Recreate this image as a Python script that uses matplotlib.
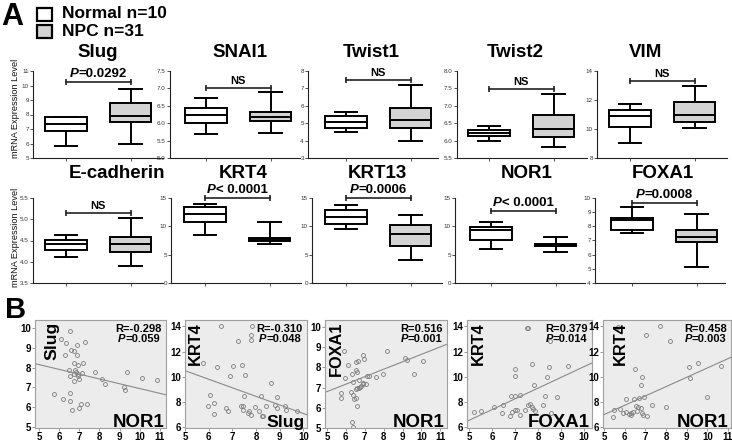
import matplotlib
matplotlib.use('Agg')
import matplotlib.pyplot as plt
from matplotlib import font_manager
from matplotlib.patches import Rectangle
from matplotlib.ticker import MultipleLocator, FormatStrFormatter
from matplotlib.offsetbox import TextArea, HPacker, VPacker, AnnotationBbox
from matplotlib.transforms import offset_copy

plt.rcParams['font.family'] = ['Liberation Sans', 'DejaVu Sans']

# ---------------- panel A: box plots, [min, q1, median, q3, max]
genes_top = ['Slug', 'SNAI1', 'Twist1', 'Twist2', 'VIM']
genes_bot = ['E-cadherin', 'KRT4', 'KRT13', 'NOR1', 'FOXA1']

normal_top = [[5.80, 6.83, 7.36, 7.80, 7.85],
              [5.70, 6.00, 6.24, 6.45, 6.72],
              [4.49, 4.74, 5.07, 5.39, 5.63],
              [6.00, 6.12, 6.23, 6.31, 6.41],
              [9.05, 10.11, 10.87, 11.34, 11.69]]
npc_top = [[5.99, 7.45, 7.93, 8.78, 9.79],
           [5.71, 6.07, 6.18, 6.31, 6.89],
           [3.98, 4.70, 5.16, 5.90, 7.21],
           [5.81, 6.10, 6.34, 6.75, 7.33],
           [10.06, 10.48, 10.99, 11.85, 12.98]]
normal_bot = [[4.11, 4.28, 4.41, 4.51, 4.63],
              [8.54, 10.73, 12.11, 13.44, 14.02],
              [9.58, 10.33, 11.60, 12.92, 13.85],
              [5.94, 7.56, 9.29, 9.81, 10.85],
              [7.56, 7.72, 8.44, 8.60, 9.33]]
npc_bot = [[3.89, 4.24, 4.41, 4.58, 5.02],
           [6.92, 7.33, 7.67, 8.02, 10.79],
           [3.98, 6.52, 8.71, 10.27, 12.06],
           [5.54, 6.45, 6.65, 6.85, 8.08],
           [5.12, 6.88, 7.28, 7.74, 8.86]]

ylim_top = [(5, 11), (5, 7.5), (3, 8), (5.5, 8), (8, 14)]
ystep_top = [1, 0.5, 1, 0.5, 2]
ylim_bot = [(3.5, 5.5), (0, 15), (0, 15), (0, 15), (4, 10)]
ystep_bot = [0.5, 5, 5, 5, 1]

bracket_top = [10.24, 7.01, 7.48, 7.48, 13.31]
bracket_bot = [5.15, 15.0, 15.0, 12.7, 9.65]
sig_top = ['=0.0292', 'NS', 'NS', 'NS', 'NS']
sig_bot = ['NS', '< 0.0001', '=0.0006', '< 0.0001', '=0.0008']

# ---------------- panel B: scatter plots
sc_xgene = ['NOR1', 'Slug', 'NOR1', 'FOXA1', 'NOR1']
sc_ygene = ['Slug', 'KRT4', 'FOXA1', 'KRT4', 'KRT4']
sc_r = ['R=-0.298', 'R=-0.310', 'R=0.516', 'R=0.379', 'R=0.458']
sc_p = ['=0.059', '=0.048', '=0.001', '=0.014', '=0.003']
# fitted line: slope, intercept
sc_fit = [(-0.242, 9.36), (-0.679, 13.885), (0.37, 4.95), (0.848, 2.325), (0.738, 3.32)]

nor1_slug_x = [6.53, 6.11, 6.33, 7.27, 6.86, 6.61, 6.72, 6.86, 6.31, 7.19, 6.72, 6.92, 6.48,
               6.78, 6.83, 6.72, 6.91, 7.12, 6.53, 6.94, 6.96, 6.72, 7.80, 8.10, 8.28, 9.38,
               10.09, 10.84, 9.21, 9.25, 5.73, 6.53, 6.19, 6.53, 7.09, 7.39, 6.99, 6.63]
nor1_slug_y = [9.85, 9.43, 9.26, 9.29, 9.12, 8.87, 8.82, 8.65, 8.62, 8.23, 8.22, 8.13, 7.90,
               7.90, 7.78, 7.70, 7.70, 7.75, 7.58, 7.56, 7.44, 7.34, 7.78, 7.44, 7.19, 7.78,
               7.47, 7.39, 7.02, 6.85, 6.65, 6.72, 6.43, 6.30, 6.18, 6.15, 5.96, 5.84]

slug_krt4_x = [6.52, 7.82, 7.77, 7.80, 7.25, 5.75, 6.37, 7.04, 7.41, 6.90, 7.55, 8.63, 6.04,
               7.51, 8.21, 8.90, 5.96, 6.24, 6.72, 6.80, 7.37, 7.44, 7.46, 7.65, 7.72, 7.77,
               7.96, 8.14, 8.24, 8.42, 8.80, 8.87, 9.23, 9.25, 6.23, 8.31, 9.72]
slug_krt4_y = [14.0, 14.0, 13.29, 12.89, 12.86, 11.10, 10.76, 10.84, 10.94, 10.07, 10.17, 9.50,
               8.53, 8.51, 8.51, 8.40, 7.73, 7.95, 7.55, 7.29, 7.73, 7.68, 7.34, 7.10, 7.26,
               6.95, 7.61, 7.29, 6.89, 7.68, 7.76, 7.55, 7.68, 7.37, 7.08, 6.89, 7.26]

nor1_foxa1_x = [5.88, 6.12, 6.53, 6.65, 6.93, 6.96, 8.19, 9.12, 9.25, 10.09, 9.60, 5.98, 6.32,
                6.53, 6.61, 6.40, 6.70, 7.14, 7.23, 7.60, 7.95, 5.74, 5.77, 6.26, 6.40, 6.44,
                6.53, 6.61, 6.70, 6.82, 6.89, 7.05, 6.53, 6.58, 6.35, 6.39, 6.75, 6.90]
nor1_foxa1_y = [8.83, 8.13, 8.25, 8.34, 8.62, 8.41, 8.81, 8.46, 8.38, 8.30, 7.68, 7.46, 7.68,
                7.87, 7.79, 7.30, 7.37, 7.56, 7.56, 7.52, 7.68, 6.72, 6.51, 6.79, 6.62, 6.46,
                6.95, 7.00, 6.97, 7.08, 7.16, 7.16, 6.51, 6.10, 5.29, 5.05, 7.02, 7.25]

foxa1_krt4_x = [7.50, 7.57, 7.72, 6.98, 8.48, 9.31, 6.99, 7.82, 8.40, 6.81, 6.99, 7.21, 8.32,
                8.83, 6.06, 6.49, 6.42, 6.85, 6.78, 6.99, 7.09, 7.21, 7.43, 7.57, 7.65, 7.72,
                7.79, 7.86, 8.22, 8.58, 5.20, 5.50, 8.50]
foxa1_krt4_y = [13.87, 13.87, 11.04, 10.65, 10.78, 10.89, 10.04, 9.38, 9.96, 8.46, 8.46, 8.54,
                8.46, 8.38, 7.61, 7.80, 7.14, 7.22, 6.88, 7.41, 7.41, 7.01, 7.41, 7.75, 7.85,
                7.59, 7.48, 7.27, 7.80, 7.11, 7.20, 7.27, 12.85]

nor1_krt4_x = [5.69, 7.70, 7.03, 8.18, 6.50, 9.55, 9.12, 10.68, 6.86, 9.15, 6.78, 6.06, 6.45,
               6.70, 6.93, 10.0, 6.53, 6.66, 6.77, 6.58, 6.41, 6.29, 6.05, 5.90, 5.77, 5.50,
               5.45, 6.82, 6.90, 7.06, 7.30, 8.02, 6.33, 6.22]
nor1_krt4_y = [13.92, 14.0, 13.29, 12.81, 10.65, 11.10, 10.78, 10.89, 9.99, 9.91, 9.38, 8.27,
               8.27, 8.33, 8.41, 8.38, 7.67, 7.59, 7.54, 7.32, 7.22, 7.14, 7.22, 7.14, 7.46,
               7.40, 6.80, 7.14, 7.01, 6.88, 7.75, 7.59, 7.01, 7.06]

sc_x = [nor1_slug_x, slug_krt4_x, nor1_foxa1_x, foxa1_krt4_x, nor1_krt4_x]
sc_y = [nor1_slug_y, slug_krt4_y, nor1_foxa1_y, foxa1_krt4_y, nor1_krt4_y]

sc_xlim = [(4.8, 11.3), (5.0, 10.15), (4.9, 11.35), (4.9, 10.35), (4.95, 11.15)]
sc_ylim = [(4.95, 10.4), (5.95, 14.5), (5.0, 10.35), (5.95, 14.5), (5.95, 14.5)]
sc_xticks = [range(5, 12), range(5, 11), range(5, 12), range(5, 11), range(5, 12)]
sc_ystep = [1, 2, 1, 2, 2]

# ---------------- layout (pixels)
W, H = 732, 442
fig = plt.figure(figsize=(W / 100, H / 100), dpi=100)

names = {f.name for f in font_manager.fontManager.ttflist}
narrow = 'Liberation Sans Narrow' in names
narrow_family = ['Liberation Sans Narrow', 'Liberation Sans'] if narrow else ['Liberation Sans']
nscale = 1.0 if narrow else 0.84


def px_axes(left, top, right, bottom):
    return fig.add_axes([left / W, 1 - bottom / H, (right - left) / W, (bottom - top) / H])


def ptext(prefix, rest, size):
    a = TextArea(prefix, textprops=dict(fontsize=size, fontweight='bold', fontstyle='italic'))
    b = TextArea(rest, textprops=dict(fontsize=size, fontweight='bold'))
    return HPacker(children=[a, b], pad=0, sep=0, align='baseline')


def box_panel(ax, normal, npc, ylim, ystep, bracket, sig, off):
    stats = [dict(whislo=s[0], q1=s[1], med=s[2], q3=s[3], whishi=s[4], fliers=[])
             for s in (normal, npc)]
    lw = 1.4
    bp = ax.bxp(stats, positions=[1, 2], widths=0.65, capwidths=0.35, patch_artist=True,
                showfliers=False,
                boxprops=dict(linewidth=lw, edgecolor='black'),
                medianprops=dict(color='black', linewidth=lw),
                whiskerprops=dict(color='black', linewidth=lw),
                capprops=dict(color='black', linewidth=lw))
    bp['boxes'][0].set_facecolor('white')
    bp['boxes'][1].set_facecolor('#d3d3d3')
    sp = 64.5
    lo = 1 - off / sp
    ax.set_xlim(lo, lo + 130 / sp)
    ax.set_ylim(*ylim)
    ax.set_xticks([1, 2])
    ax.set_xticklabels([])
    ax.yaxis.set_major_locator(MultipleLocator(ystep))
    if ystep < 1:
        ax.yaxis.set_major_formatter(FormatStrFormatter('%.1f'))
    else:
        ax.yaxis.set_major_formatter(FormatStrFormatter('%d'))
    for s in ('top', 'right'):
        ax.spines[s].set_visible(False)
    for s in ('left', 'bottom'):
        ax.spines[s].set_linewidth(0.8)
        ax.spines[s].set_color('#222222')
    ax.tick_params(axis='y', length=2, width=0.6, labelsize=4.5, pad=1, colors='#333333')
    ax.tick_params(axis='x', length=2.5, width=0.6, colors='#333333')
    ax.patch.set_alpha(0)
    ax.plot([1, 2], [bracket, bracket], color='#222222', lw=1.2, marker='|',
            markersize=5, mew=1.2, clip_on=False)
    if sig == 'NS':
        box = TextArea('NS', textprops=dict(fontsize=8, fontweight='bold'))
    else:
        box = ptext('P', sig, 9.5)
    ab = AnnotationBbox(box, (1.5, bracket), xycoords='data', xybox=(0, 1.2),
                        boxcoords='offset points', box_alignment=(0.5, 0),
                        frameon=False, pad=0, annotation_clip=False)
    ax.add_artist(ab)


lefts_top = [33, 170, 308, 457, 597]
offs_top = [33, 36, 38, 32, 33]
title_top_x = [98, 240, 371, 515, 646]
lefts_bot = [33, 171, 312, 455, 595]
offs_bot = [33, 34, 34, 36, 37]
title_bot_x = [117, 243, 377, 527, 663]

for i in range(5):
    ax = px_axes(lefts_top[i], 71, lefts_top[i] + 130, 158)
    box_panel(ax, normal_top[i], npc_top[i], ylim_top[i], ystep_top[i],
              bracket_top[i], sig_top[i], offs_top[i])
    fig.text(title_top_x[i] / W, 1 - 57 / H, genes_top[i], ha='center', va='baseline',
             fontsize=13.5, fontweight='bold')

    ax = px_axes(lefts_bot[i], 198, lefts_bot[i] + 130, 283)
    box_panel(ax, normal_bot[i], npc_bot[i], ylim_bot[i], ystep_bot[i],
              bracket_bot[i], sig_bot[i], offs_bot[i])
    fig.text(title_bot_x[i] / W, 1 - 178 / H, genes_bot[i], ha='center', va='baseline',
             fontsize=13.5, fontweight='bold')

for yc in (108, 237):
    fig.text(16 / W, 1 - yc / H, 'mRNA Expression Level', rotation=90, ha='center',
             va='center', fontsize=6.6, color='#111111')

# legend
fig.add_artist(Rectangle((37 / W, 1 - 21 / H), 15 / W, 13 / H, transform=fig.transFigure,
                         facecolor='white', edgecolor='black', lw=1.6))
fig.add_artist(Rectangle((37 / W, 1 - 38 / H), 15 / W, 13 / H, transform=fig.transFigure,
                         facecolor='#d3d3d3', edgecolor='black', lw=1.6))
fig.text(62 / W, 1 - 17.5 / H, 'Normal n=10', fontsize=12.5, fontweight='bold', va='baseline')
fig.text(62 / W, 1 - 36 / H, 'NPC n=31', fontsize=12.5, fontweight='bold', va='baseline')

fig.text(1 / W, 1 - 25 / H, 'A', fontsize=22, fontweight='bold', va='baseline')
fig.text(5 / W, 1 - 318 / H, 'B', fontsize=21, fontweight='bold', va='baseline')

# ---------------- scatter row
sc_box = [(35, 166), (185, 307), (325, 447), (467, 592), (603, 731)]
ylab_dx = [9, 3, 4, 4, 10]
ylab_size = [15, 14, 14, 14, 14]
xlab_size = [16, 15, 16, 16, 16]

for i in range(5):
    l, r = sc_box[i]
    ax = px_axes(l, 320, r, 428)
    ax.set_facecolor('#ececec')
    for s in ax.spines.values():
        s.set_color('#a0a0a0')
        s.set_linewidth(0.8)
    ax.plot(sc_x[i], sc_y[i], 'o', ms=2.8, mfc='none', mec='#7a7a7a', mew=0.6)
    x0, x1 = sc_xlim[i]
    m, b = sc_fit[i]
    ax.plot([x0, x1], [m * x0 + b, m * x1 + b], color='#8a8a8a', lw=0.8)
    ax.set_xlim(x0, x1)
    ax.set_ylim(*sc_ylim[i])
    ax.set_xticks(list(sc_xticks[i]))
    ax.yaxis.set_major_locator(MultipleLocator(sc_ystep[i]))
    ax.tick_params(length=2, width=0.6, color='#888888', labelsize=7, pad=1)
    for t in ax.get_xticklabels() + ax.get_yticklabels():
        t.set_fontweight('bold')

    tr = offset_copy(ax.transAxes, fig=fig, x=ylab_dx[i], y=-2, units='dots')
    ax.text(0, 1, sc_ygene[i], transform=tr, rotation=90, ha='left', va='top',
            fontsize=ylab_size[i] * nscale, fontweight='bold', family=narrow_family)
    tr = offset_copy(ax.transAxes, fig=fig, x=-2, y=1, units='dots')
    ax.text(1, 0, sc_xgene[i], transform=tr, ha='right', va='baseline',
            fontsize=xlab_size[i] * nscale, fontweight='bold', family=narrow_family)

    rbox = TextArea(sc_r[i], textprops=dict(fontsize=8, fontweight='bold'))
    pbox = ptext('P', sc_p[i], 8)
    vb = VPacker(children=[rbox, pbox], pad=0, sep=0, align='center')
    ab = AnnotationBbox(vb, (1, 1), xycoords='axes fraction', xybox=(-3, -3),
                        boxcoords='offset points', box_alignment=(1, 1),
                        frameon=False, pad=0)
    ax.add_artist(ab)

fig.savefig('out.png', dpi=100)
